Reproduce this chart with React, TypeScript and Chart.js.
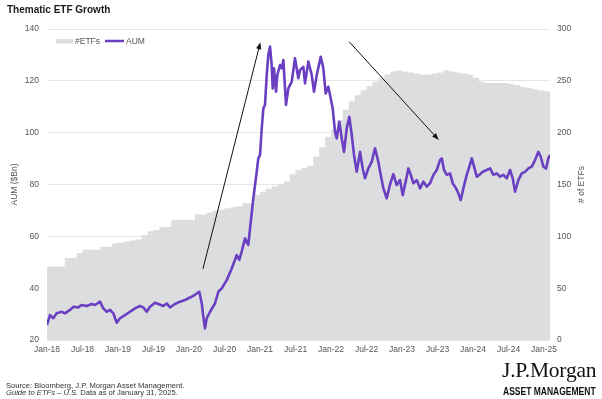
import React, { useEffect, useRef } from "react";
import { Chart, registerables } from "chart.js";

Chart.register(...registerables);

// X axis: months since Jan 2018
const xTickMonths = [0, 6, 12, 18, 24, 30, 36, 42, 48, 54, 60, 66, 72, 78, 84];
const xTickLabels = [
  "Jan-18", "Jul-18", "Jan-19", "Jul-19", "Jan-20", "Jul-20", "Jan-21", "Jul-21",
  "Jan-22", "Jul-22", "Jan-23", "Jul-23", "Jan-24", "Jul-24", "Jan-25",
];

// AUM ($Bn) series, month position and value
const aumMonths = [
  0.0, 0.51, 1.06, 1.64, 2.48, 3.04, 3.89, 4.44, 5.29, 5.86, 6.71, 7.55, 8.11, 8.96, 9.51,
  10.09, 10.65, 11.2, 11.78, 12.34, 13.18, 14.03, 14.87, 15.72, 16.27, 16.85, 17.41, 18.25,
  18.81, 19.66, 20.23, 20.79, 21.63, 22.48, 23.32, 23.88, 24.45, 25.01, 25.3, 25.74, 26.15,
  26.42, 26.7, 26.99, 27.55, 28.39, 28.95, 29.53, 30.37, 31.22, 32.06, 32.5, 32.9, 33.46,
  34.02, 34.31, 34.87, 35.44, 35.71, 36.0, 36.29, 36.56, 36.84, 37.13, 37.4, 37.69, 37.97,
  38.14, 38.36, 38.7, 38.92, 39.38, 39.67, 39.94, 40.39, 40.78, 41.36, 41.91, 42.47, 42.76,
  43.32, 43.6, 44.16, 44.74, 45.12, 45.58, 46.26, 46.7, 47.1, 47.54, 47.95, 48.28, 48.67,
  48.96, 49.4, 49.81, 50.19, 50.65, 51.09, 51.5, 51.88, 52.34, 52.9, 53.35, 53.74, 54.3,
  54.88, 55.43, 55.99, 56.4, 56.84, 57.41, 57.97, 58.53, 59.1, 59.66, 60.11, 60.67, 61.06,
  61.47, 61.91, 62.48, 63.04, 63.6, 64.17, 64.73, 65.29, 65.86, 66.42, 66.71, 67.09, 67.55,
  68.11, 68.56, 69.12, 69.51, 69.92, 70.36, 70.93, 71.37, 71.78, 72.17, 72.62, 73.06, 73.64,
  74.31, 74.87, 75.43, 76.0, 76.56, 77.12, 77.69, 78.25, 78.7, 79.1, 79.65, 80.23, 80.78,
  81.34, 81.92, 82.47, 83.03, 83.43, 83.88, 84.33, 84.72, 85.0,
];
const aumValues = [
  25.8, 29.6, 28.4, 30.3, 30.9, 30.3, 31.6, 32.8, 32.6, 33.5, 33.1, 33.9, 33.5, 34.8, 32.2,
  30.9, 31.6, 30.3, 26.7, 28.4, 29.6, 30.9, 32.2, 33.1, 32.6, 30.9, 32.8, 34.4,
  33.9, 33.1, 34.1, 32.6, 33.9, 34.8, 35.4, 36.1, 36.7, 37.4, 38.0, 38.6, 34.1,
  29.0, 24.5, 28.4, 30.9, 34.1, 38.6, 39.9, 43.1, 47.6, 52.8, 50.9, 54.1, 59.2,
  56.7, 63.1, 74.7, 84.9, 90.1, 91.4, 101.7, 109.4, 110.7, 122.2, 130.0, 133.2, 126.1,
  117.1, 124.8, 115.8, 122.2, 126.1, 124.8, 128.0, 110.7, 117.1, 119.7, 128.7, 121.0, 124.2,
  125.4, 119.0, 127.4, 122.2, 115.8, 122.2, 129.3, 124.8, 115.1, 117.7, 113.2, 109.4, 100.4,
  97.8, 104.2, 97.8, 92.6, 101.7, 106.1, 99.1, 91.4, 84.9, 92.6, 86.2, 82.4, 86.2,
  88.8, 94.0, 88.8, 83.7, 78.5, 74.7, 80.0, 84.0, 79.8, 81.7, 75.9, 81.7, 86.2,
  83.7, 80.5, 81.7, 78.5, 81.1, 79.2, 80.5, 83.7, 85.6, 89.4, 90.1, 85.6, 83.7,
  84.3, 80.5, 78.5, 76.6, 74.0, 78.5, 83.7, 86.9, 90.1, 86.9, 83.0, 83.7, 84.9,
  85.6, 86.2, 83.7, 84.3, 83.0, 83.7, 82.4, 85.6, 82.4, 77.2, 81.7, 84.3, 84.9,
  86.2, 86.9, 89.4, 92.6, 90.7, 86.9, 86.2, 90.1, 91.4,
];

// Number of thematic ETFs, one value per month from Jan 2018 (index = month)
const etfCounts = [
  67, 71, 71, 71, 79, 79, 84, 87, 87, 87, 90, 90, 93, 94, 95, 96, 97, 101, 105, 106,
  109, 109, 116, 116, 116, 116, 121, 121, 123, 125, 126, 127, 128, 129, 132, 132, 140, 143, 146, 148,
  150, 153, 160, 164, 166, 168, 177, 186, 196, 203, 212, 222, 230, 236, 241, 245, 249, 253, 256, 259,
  260, 259, 258, 257, 256, 256, 257, 258, 260, 259, 258, 257, 256, 253, 249, 248, 248, 248, 248, 247,
  246, 244, 243, 242, 241, 240,
];

// Annotation arrows in data coordinates (month, AUM)
const arrowFromMonth = [26.35, 51.06];
const arrowFromAum = [47.4, 135.1];
const arrowToMonth = [36.06, 66.2];
const arrowToAum = [134.9, 97.2];

const PURPLE = "#6a3fc2";
const GRAY_FILL = "#dcdddf";
const GRID = "#e6e6e6";
const TICK = "#555555";
const FONT = "'Liberation Sans', Arial, sans-serif";

const overlayPlugin = {
  id: "overlay",
  afterDatasetsDraw(chart: any) {
    const { ctx, chartArea, scales } = chart;
    const sx = scales.x;
    const sy = scales.y;
    ctx.save();
    // arrows
    ctx.strokeStyle = "#111";
    ctx.fillStyle = "#111";
    ctx.lineWidth = 1;
    for (let i = 0; i < arrowFromMonth.length; i++) {
      const x1 = sx.getPixelForValue(arrowFromMonth[i]);
      const y1 = sy.getPixelForValue(arrowFromAum[i]);
      const x2 = sx.getPixelForValue(arrowToMonth[i]);
      const y2 = sy.getPixelForValue(arrowToAum[i]);
      const ang = Math.atan2(y2 - y1, x2 - x1);
      const hl = 7;
      const hw = 2.6;
      const bx = x2 - hl * Math.cos(ang);
      const by = y2 - hl * Math.sin(ang);
      ctx.beginPath();
      ctx.moveTo(x1, y1);
      ctx.lineTo(bx, by);
      ctx.stroke();
      ctx.beginPath();
      ctx.moveTo(x2, y2);
      ctx.lineTo(bx + hw * Math.sin(ang), by - hw * Math.cos(ang));
      ctx.lineTo(bx - hw * Math.sin(ang), by + hw * Math.cos(ang));
      ctx.closePath();
      ctx.fill();
    }
    // legend
    const lx = chartArea.left + 9;
    const ly = chartArea.top + 12;
    ctx.fillStyle = GRAY_FILL;
    ctx.fillRect(lx, ly - 2, 17, 4.5);
    ctx.font = `8.5px ${FONT}`;
    ctx.textBaseline = "middle";
    ctx.textAlign = "left";
    ctx.fillStyle = TICK;
    ctx.fillText("#ETFs", lx + 19, ly + 0.5);
    ctx.strokeStyle = PURPLE;
    ctx.lineWidth = 2.5;
    ctx.beginPath();
    ctx.moveTo(lx + 49, ly);
    ctx.lineTo(lx + 68, ly);
    ctx.stroke();
    ctx.fillText("AUM", lx + 70, ly + 0.5);
    // axis titles
    const cy = (chartArea.top + chartArea.bottom) / 2;
    ctx.textAlign = "center";
    ctx.fillStyle = TICK;
    ctx.save();
    ctx.translate(15, cy);
    ctx.rotate(-Math.PI / 2);
    ctx.fillText("AUM ($Bn)", 0, 0);
    ctx.restore();
    ctx.save();
    ctx.translate(chartArea.right + 32, cy);
    ctx.rotate(-Math.PI / 2);
    ctx.fillText("# of ETFs", 0, 0);
    ctx.restore();
    ctx.restore();
  },
};

export default function App() {
  const canvasRef = useRef<HTMLCanvasElement | null>(null);

  useEffect(() => {
    if (!canvasRef.current) return;
    const chart = new Chart(canvasRef.current, {
      type: "line",
      data: {
        datasets: [
          {
            label: "AUM",
            data: aumMonths.map((m, i) => ({ x: m, y: aumValues[i] })),
            yAxisID: "y",
            borderColor: PURPLE,
            borderWidth: 2.6,
            borderJoinStyle: "round",
            pointRadius: 0,
            tension: 0,
            fill: false,
            order: 0,
          },
          {
            label: "#ETFs",
            data: etfCounts.map((v, i) => ({ x: i, y: v })),
            yAxisID: "y1",
            backgroundColor: GRAY_FILL,
            borderColor: GRAY_FILL,
            borderWidth: 0,
            pointRadius: 0,
            stepped: "after",
            fill: "origin",
            order: 1,
          },
        ],
      },
      options: {
        responsive: false,
        animation: false,
        layout: { padding: { top: 29, bottom: 37, left: 0, right: 0 } },
        scales: {
          x: {
            type: "linear",
            min: 0,
            max: 85,
            grid: { display: false, drawTicks: false },
            border: { display: false },
            afterBuildTicks: (s: any) => {
              s.ticks = xTickMonths.map((v) => ({ value: v }));
            },
            afterFit: (s: any) => {
              s.height = 22;
            },
            ticks: {
              autoSkip: false,
              maxRotation: 0,
              minRotation: 0,
              padding: 5,
              color: TICK,
              font: { family: FONT, size: 8.5 },
              callback: (_v: any, i: number) => xTickLabels[i],
            },
          },
          y: {
            position: "left",
            min: 20,
            max: 140,
            grid: { color: GRID, lineWidth: 1, drawTicks: false },
            border: { display: false },
            afterFit: (s: any) => {
              s.width = 47;
            },
            ticks: {
              stepSize: 20,
              padding: 8,
              color: TICK,
              font: { family: FONT, size: 8.5 },
            },
          },
          y1: {
            position: "right",
            min: 0,
            max: 300,
            grid: { display: false, drawTicks: false },
            border: { display: false },
            afterFit: (s: any) => {
              s.width = 52;
            },
            ticks: {
              stepSize: 50,
              padding: 7,
              color: TICK,
              font: { family: FONT, size: 8.5 },
            },
          },
        },
        plugins: {
          legend: { display: false },
          tooltip: { enabled: false },
        },
      },
      plugins: [overlayPlugin],
    } as any);
    return () => chart.destroy();
  }, []);

  return (
    <div
      style={{
        position: "fixed",
        left: 0,
        top: 0,
        width: 602,
        height: 399,
        background: "#ffffff",
        overflow: "hidden",
      }}
    >
      <canvas
        ref={canvasRef}
        width={602}
        height={399}
        style={{ position: "absolute", left: 0, top: 0, width: 602, height: 399 }}
      />
      <div
        style={{
          position: "absolute",
          left: 7,
          top: 4,
          fontFamily: FONT,
          fontWeight: 700,
          fontSize: 10,
          lineHeight: "12px",
          color: "#1a1a1a",
          whiteSpace: "nowrap",
        }}
      >
        Thematic ETF Growth
      </div>
      <div
        style={{
          position: "absolute",
          left: 6,
          top: 382,
          fontFamily: FONT,
          fontSize: 7.6,
          lineHeight: "7.4px",
          color: "#333",
          whiteSpace: "nowrap",
        }}
      >
        <div>Source: Bloomberg, J.P. Morgan Asset Management.</div>
        <div>
          <i>Guide to ETFs – U.S.</i> Data as of January 31, 2025.
        </div>
      </div>
      <div
        style={{
          position: "absolute",
          left: 502,
          top: 360,
          fontFamily: "'Liberation Serif', 'Times New Roman', serif",
          fontSize: 21.5,
          lineHeight: "21px",
          color: "#111",
          letterSpacing: "-0.2px",
          whiteSpace: "nowrap",
        }}
      >
        J.P.Morgan
      </div>
      <div
        style={{
          position: "absolute",
          left: 503,
          top: 386,
          fontFamily: FONT,
          fontWeight: 700,
          fontSize: 10.5,
          lineHeight: "11px",
          color: "#111",
          whiteSpace: "nowrap",
          transform: "scaleX(0.81)",
          transformOrigin: "0 0",
        }}
      >
        ASSET MANAGEMENT
      </div>
    </div>
  );
}
